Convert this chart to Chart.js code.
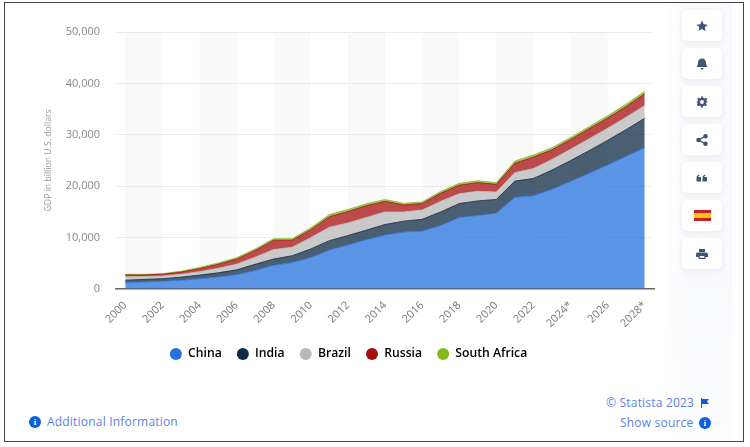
<!DOCTYPE html>
<html>
<head>
<meta charset="utf-8">
<script src="https://cdn.jsdelivr.net/npm/chart.js@4"></script>
<style>
  html, body { margin: 0; padding: 0; background: #fff; }
  body { width: 750px; height: 447px; position: relative; overflow: hidden; font-family: "Open Sans", sans-serif; }
  #frame { position: absolute; left: 4px; top: 2px; width: 738px; height: 438px; border: 1px solid #444; box-sizing: content-box; }
  #chart { position: absolute; left: 0; top: 0; }
  .side { position: absolute; left: 664px; top: 3px; width: 68px; height: 437px; background: linear-gradient(to right, #fff, #f8f9fc 35%); -webkit-mask-image: linear-gradient(#000 60%, rgba(0,0,0,.35)); mask-image: linear-gradient(#000 60%, rgba(0,0,0,.35)); }
  .btn { position: absolute; left: 682px; width: 40px; height: 31px; background: #fff; border-radius: 5px; box-shadow: 0 2px 6px rgba(60,80,120,.08); display: flex; align-items: center; justify-content: center; }
  .btn svg { width: 12px; height: 12px; fill: #3f5675; }
  .spain { width: 17px; height: 11px; background: linear-gradient(#c8202a 0 25%, #f6c21c 25% 75%, #c8202a 75%); }
  .link { position: absolute; color: #5b7fe8; font-size: 12px; white-space: nowrap; letter-spacing: .2px; }
  .ico { position: absolute; width: 12px; height: 12px; border-radius: 50%; background: #0a5fe0; color: #fff; font: bold 9px/12px "Liberation Serif", serif; text-align: center; }
</style>
</head>
<body>
<div id="frame"></div>
<div class="side"></div>
<canvas id="chart" width="690" height="370"></canvas>

<div class="btn" style="top:10px"><svg viewBox="0 0 24 24"><path d="M12 1l3.4 7.3 7.9 1-5.8 5.5 1.5 7.9L12 18l-7 3.7 1.5-7.9L.7 9.3l7.9-1z"/></svg></div>
<div class="btn" style="top:48px"><svg viewBox="0 0 24 24"><path d="M12 1c-5 0-8 4-8 8 0 5-2 7-3 9h22c-1-2-3-4-3-9 0-4-3-8-8-8zM9 20a3 3 0 0 0 6 0z"/></svg></div>
<div class="btn" style="top:86px"><svg viewBox="0 0 24 24"><path fill-rule="evenodd" d="M10 1h4l.7 3.2 2.2.9L19.700 3.400l2.800 2.800-1.700 2.800.9 2.200L24 12l-3 .8-.9 2.200 1.700 2.800-2.800 2.800-2.800-1.700-2.200.9L14 23h-4l-.7-3.200-2.200-.9-2.800 1.700-2.800-2.800 1.700-2.800-.9-2.200L0 12l3.200-.8.9-2.200L2.400 6.200 5.200 3.400l2.800 1.700 2.200-.9zM12 8a4 4 0 1 0 0 8 4 4 0 0 0 0-8z"/></svg></div>
<div class="btn" style="top:124px"><svg viewBox="0 0 24 24"><circle cx="5" cy="12" r="4.500"/><circle cx="19" cy="4.500" r="4.500"/><circle cx="19" cy="19.500" r="4.500"/><path d="M5 10.500L19 3v3L5 13.500zM5 10.500l14 7.500v3L5 13.500z"/></svg></div>
<div class="btn" style="top:162px"><svg viewBox="0 0 24 24"><path d="M1 19v-7c0-4 2-6 5-7l1 2c-2 1-2.500 2-2.500 3H10v9zM13 19v-7c0-4 2-6 5-7l1 2c-2 1-2.500 2-2.500 3H22v9z"/></svg></div>
<div class="btn" style="top:200px"><div class="spain"></div></div>
<div class="btn" style="top:238px"><svg viewBox="0 0 24 24"><path fill-rule="evenodd" d="M6 2h12v6H6zM3 9h18a3 3 0 0 1 3 3v6h-5v4H5v-4H0v-6a3 3 0 0 1 3-3zM7.500 16v3.500h9V16z"/></svg></div>

<div class="ico" style="left:29px;top:416px">i</div>
<div class="link" style="left:47px;top:413px">Additional Information</div>
<div class="link" style="left:606px;top:394px">© Statista 2023</div>
<svg style="position:absolute;left:700px;top:398px;width:10px;height:10px" viewBox="0 0 10 10"><path fill="#0a5fe0" d="M1 0h1v10H1zM2 1h7L7 3.500 9 6H2z"/></svg>
<div class="link" style="left:620px;top:414px">Show source</div>
<div class="ico" style="left:699px;top:417px">i</div>

<script>
const categories = ['2000','2001','2002','2003','2004','2005','2006','2007','2008','2009',
  '2010','2011','2012','2013','2014','2015','2016','2017','2018','2019',
  '2020','2021','2022','2023*','2024*','2025*','2026','2027*','2028*']
const yTicks = [0, 10000, 20000, 30000, 40000, 50000]

const china = [1211,1339,1471,1660,1955,2286,2752,3550,4594,5102,6087,7552,8532,9570,10476,11062,11233,12310,13895,14280,14723,17820,18100,19374,20900,22500,24100,25800,27500]
const india = [468,485,502,607,709,820,940,1217,1199,1342,1676,1823,1828,1857,2039,2103,2295,2651,2703,2836,2672,3150,3385,3737,4060,4400,4800,5200,5700]
const brazil = [655,559,509,558,669,892,1107,1397,1850,1667,2209,2616,2465,2472,2456,1802,1797,2063,1917,1873,1449,1650,1920,2080,2200,2300,2350,2420,2500]
const russia = [360,307,345,430,591,764,990,1300,1810,1350,1525,2046,2208,2293,2059,1363,1277,1575,1657,1693,1489,1840,2240,1860,1900,1950,2000,2080,2300]
const southAfrica = [136,121,116,176,229,258,272,299,287,297,375,417,397,367,351,318,296,349,368,351,338,420,405,400,410,420,440,460,480]

function series(label, data, rgb, first) {
  return {
    label: label,
    data: data,
    fill: first ? 'origin' : '-1',
    backgroundColor: 'rgba(' + rgb + ',0.75)',
    borderColor: 'rgb(' + rgb + ')',
    borderWidth: 0.8,
    pointRadius: 0,
    tension: 0
  }
}

// grey stripes behind the grid, every other two years
const stripes = {
  id: 'stripes',
  beforeDraw(chart) {
    const ctx = chart.ctx, x = chart.scales.x, area = chart.chartArea
    ctx.save()
    ctx.fillStyle = '#f9f9f9'
    for (let i = 0; i + 2 < categories.length; i += 4) {
      const a = x.getPixelForValue(i), b = x.getPixelForValue(i + 2)
      ctx.fillRect(a, area.top, b - a, area.bottom - area.top)
    }
    ctx.restore()
  }
}

new Chart(document.getElementById('chart').getContext('2d'), {
  type: 'line',
  plugins: [stripes],
  data: {
    labels: categories,
    datasets: [
      series('China', china, '38,113,221', true),
      series('India', india, '15,42,68'),
      series('Brazil', brazil, '184,184,184'),
      series('Russia', russia, '165,15,15'),
      series('South Africa', southAfrica, '132,186,28')
    ]
  },
  options: {
    responsive: false,
    animation: false,
    layout: { padding: { top: 32, right: 36, left: 43 } },
    plugins: {
      tooltip: { enabled: false },
      legend: {
        position: 'bottom',
        labels: {
          usePointStyle: true,
          pointStyle: 'circle',
          boxWidth: 13,
          boxHeight: 8.5,
          padding: 15,
          color: '#333',
          font: { family: 'Open Sans', size: 12.2, weight: '600' },
          generateLabels(chart) {
            return chart.data.datasets.map((d, i) => ({
              text: d.label,
              fillStyle: d.borderColor,
              strokeStyle: d.borderColor,
              lineWidth: 0,
              pointStyle: 'circle',
              datasetIndex: i
            }))
          }
        }
      }
    },
    scales: {
      x: {
        offset: true,
        afterFit(s) { s.height = 44 },
        grid: { display: false },
        border: { color: '#666', width: 1.5 },
        ticks: {
          autoSkip: false,
          minRotation: 45,
          maxRotation: 45,
          padding: 2,
          color: '#777',
          font: { family: 'Open Sans', size: 11 },
          callback(v, i) { return i % 2 ? null : categories[i] }
        }
      },
      y: {
        stacked: true,
        min: 0,
        max: 50000,
        afterFit(s) { s.width = 73 },
        afterBuildTicks(s) { s.ticks = yTicks.map(v => ({ value: v })) },
        border: { display: false, dash: [1, 1] },
        grid: { color: '#dcdcdc', drawTicks: false },
        title: {
          display: true,
          text: 'GDP in billion U.S. dollars',
          color: '#999',
          font: { family: 'Open Sans', size: 8.7 },
          padding: { top: 0, bottom: 0 }
        },
        ticks: {
          padding: 16,
          color: '#888',
          font: { family: 'Open Sans', size: 11 },
          callback(v) { return v.toLocaleString('en-US') }
        }
      }
    }
  }
})
</script>
</body>
</html>
